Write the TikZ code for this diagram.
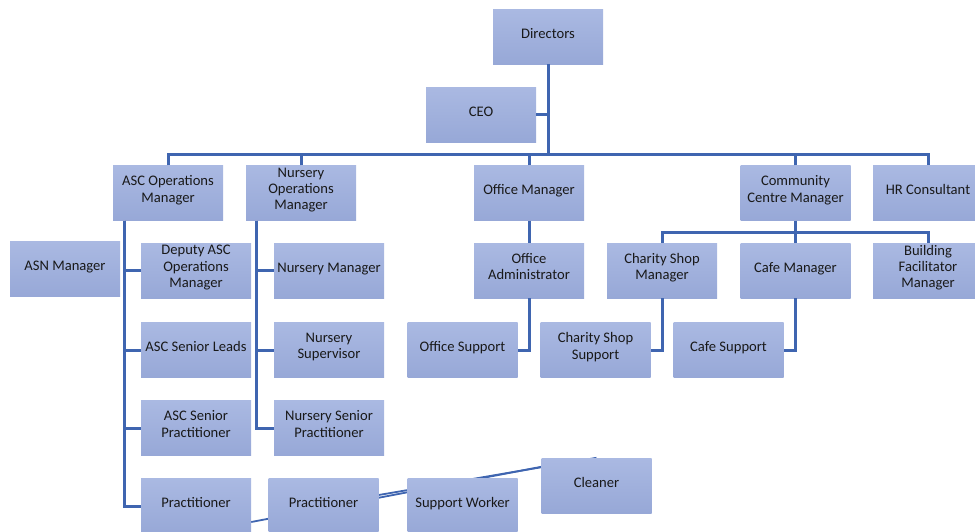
\documentclass[tikz,border=0pt]{standalone}
\usepackage{fontspec}
\setmainfont{Carlito}
\usepackage{tikz}
\usetikzlibrary{backgrounds}
\definecolor{boxtop}{HTML}{AAB9E2}
\definecolor{boxbottom}{HTML}{97A8D7}
\definecolor{linkblue}{HTML}{3F65B0}

\begin{document}
\begin{tikzpicture}[
            x=1pt, y=-1pt,
            box/.style={rectangle, minimum width=110pt, minimum height=55pt, inner sep=1pt, align=center,
                top color=boxtop, bottom color=boxbottom, text=black!90,
                font=\fontsize{14.6}{16.3}\selectfont,
                execute at begin node={\rule{0pt}{11pt}},
                execute at end node={\rule[-8pt]{0pt}{0pt}}}, % shaded boxes, text sits a little high
            link/.style={draw=linkblue, line width=3pt}, % elbow connectors
            cross/.style={draw=linkblue, line width=1.8pt} % loose diagonal lines
            ]
    \useasboundingbox (0,0) rectangle (975,531);
    \clip (0,0) rectangle (975,531);

    % top of the chart
    \node[box] (dir) at (548,36.5) {Directors};
    \node[box] (ceo) at (481,114.5) {CEO};

    % managers
    \node[box] (ascops) at (168,193) {ASC Operations\\Manager};
    \node[box] (nurops) at (301,193) {Nursery\\Operations\\Manager};
    \node[box] (offmgr) at (529,193) {Office Manager};
    \node[box] (ccm) at (795.5,193) {Community\\Centre Manager};
    \node[box] (hr) at (928,193) {HR Consultant};

    % second row
    \node[box] (asn) at (65,269) {ASN Manager};
    \node[box] (deputy) at (196,270.5) {Deputy ASC\\Operations\\Manager};
    \node[box] (nurmgr) at (329,270.5) {Nursery Manager};
    \node[box] (offadm) at (529,270.5) {Office\\Administrator};
    \node[box] (csmgr) at (662,270.5) {Charity Shop\\Manager};
    \node[box] (cafemgr) at (795.5,270.5) {Cafe Manager};
    \node[box] (bfm) at (928,270.5) {Building\\Facilitator\\Manager};

    % third row
    \node[box] (ascleads) at (196,350) {ASC Senior Leads};
    \node[box] (nursup) at (329,350) {Nursery\\Supervisor};
    \node[box] (offsup) at (462.5,350) {Office Support};
    \node[box] (cssup) at (595.5,350) {Charity Shop\\Support};
    \node[box] (cafesup) at (728.5,350) {Cafe Support};

    % fourth row
    \node[box] (ascsp) at (196,428) {ASC Senior\\Practitioner};
    \node[box] (nursp) at (329,428) {Nursery Senior\\Practitioner};

    % bottom row
    \node[box] (prac1) at (196,506) {Practitioner};
    \node[box] (prac2) at (323.5,506) {Practitioner};
    \node[box] (supw) at (462.5,506) {Support Worker};
    \node[box] (cleaner) at (596.5,485.5) {Cleaner};

    % connectors from the top
    \coordinate (bus) at (548,154);
    \coordinate (ccbus) at (795.5,232);
    \draw[link] (dir.south) -- (bus);
    \draw[link] (ceo.east) -- (ceo.east -| dir.south);
    \draw[link] (ascops.north) |- (bus) -| (hr.north);
    \foreach \n in {nurops, offmgr, ccm}
        \draw[link] (\n.north) -- (\n.north |- bus);

    % ASC and nursery branches
    \foreach \n in {deputy, ascleads, ascsp, prac1}
        \draw[link] ([xshift=12pt]ascops.south west) |- (\n.west);
    \foreach \n in {nurmgr, nursup, nursp}
        \draw[link] ([xshift=11pt]nurops.south west) |- (\n.west);

    % office and community centre branches
    \draw[link] (offmgr.south) -- (offadm.north);
    \draw[link] (offadm.south) |- (offsup.east);
    \draw[link] (ccm.south) -- (cafemgr.north);
    \draw[link] (csmgr.north) |- (ccbus) -| (bfm.north);
    \draw[link] (csmgr.south) |- (cssup.east);
    \draw[link] (cafemgr.south) |- (cafesup.east);

    % stray lines behind the bottom row
    \begin{scope}[on background layer]
        \draw[cross] ([yshift=-16pt]prac1.east) -- ([yshift=-9pt]cleaner.north west);
        \draw[cross] ([yshift=11pt]prac2.east) -- (cleaner.north);
    \end{scope}

\end{tikzpicture}
\end{document}
